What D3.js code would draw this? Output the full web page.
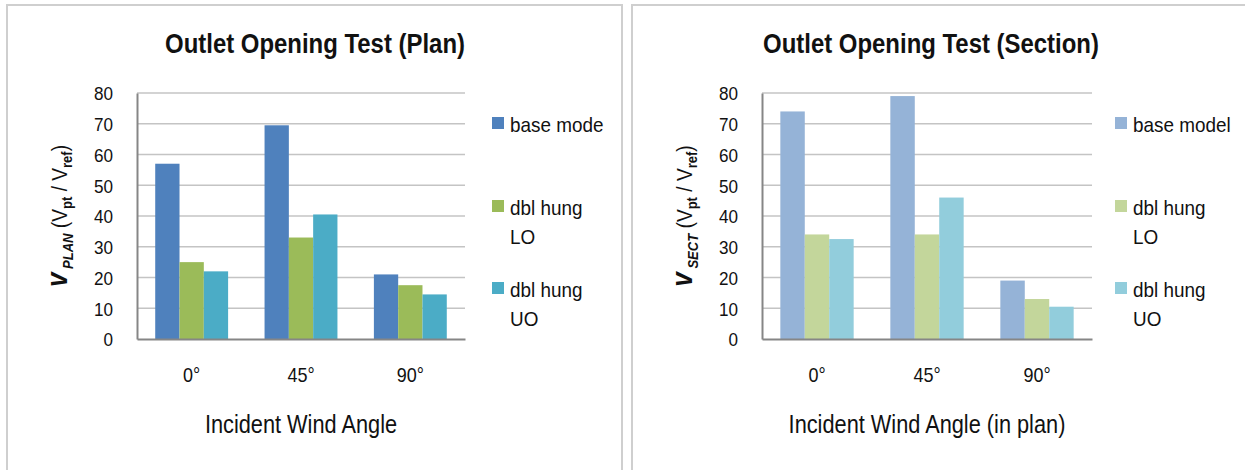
<!DOCTYPE html>
<html><head><meta charset="utf-8">
<script src="https://cdn.jsdelivr.net/npm/d3@7"></script>
<style>
html,body{margin:0;padding:0;background:#fff;}
svg{display:block;}
text{font-family:"Liberation Sans",Arial,sans-serif;fill:#111;}
</style></head>
<body>
<svg id="c" width="1245" height="470"></svg>
<script>
const categories = ["0°", "45°", "90°"];
const yTicks = [0, 10, 20, 30, 40, 50, 60, 70, 80];

const planSeries = ["base mode", "dbl hung LO", "dbl hung UO"];
const planBase = [57, 69.5, 21];
const planLO = [25, 33, 17.5];
const planUO = [22, 40.5, 14.5];

const sectSeries = ["base model", "dbl hung LO", "dbl hung UO"];
const sectBase = [74, 79, 19];
const sectLO = [34, 34, 13];
const sectUO = [32.5, 46, 10.5];

const legendLines = [["base mode"], ["dbl hung", "LO"], ["dbl hung", "UO"]];
const legendLinesSect = [["base model"], ["dbl hung", "LO"], ["dbl hung", "UO"]];

const svg = d3.select("#c");

// narrow the text horizontally around its anchor (reference uses a condensed face)
function condense(sel, s) {
  sel.each(function () {
    const t = d3.select(this);
    const x = +t.attr("x") || 0;
    const y = +t.attr("y") || 0;
    t.attr("x", 0).attr("y", 0).attr("transform", `translate(${x},${y}) scale(${s},1)`);
  });
}

function drawChart(cfg) {
  const g = svg.append("g").attr("transform", `translate(${cfg.dx},0)`);
  g.append("rect").attr("x", cfg.frame[0]).attr("y", 5)
    .attr("width", cfg.frame[1] - cfg.frame[0]).attr("height", 480)
    .attr("fill", "none").attr("stroke", "#cfcfcf").attr("stroke-width", 2);

  const x0 = d3.scaleBand().domain(categories).range([cfg.left, cfg.right]);
  const x1 = d3.scaleBand().domain(cfg.series).range([0, x0.bandwidth()]).paddingOuter(0.75);
  const y = d3.scaleLinear().domain([0, 80]).range([339, 93]);

  g.append("g").selectAll("line").data(yTicks.filter(d => d > 0)).join("line")
    .attr("x1", cfg.left).attr("x2", cfg.right)
    .attr("y1", d => y(d)).attr("y2", d => y(d))
    .attr("stroke", "#c4c4c4").attr("stroke-width", 1.6);

  const values = cfg.values;
  cfg.series.forEach((s, si) => {
    g.append("g").selectAll("rect").data(categories).join("rect")
      .attr("x", c => x0(c) + x1(s))
      .attr("width", x1.bandwidth())
      .attr("y", (c, i) => y(values[si][i]))
      .attr("height", (c, i) => y(0) - y(values[si][i]))
      .attr("fill", cfg.colors[si]);
  });

  const ya = g.append("g").attr("transform", `translate(${cfg.left},0)`)
    .call(d3.axisLeft(y).tickValues(yTicks).tickSize(0).tickPadding(24));
  ya.select(".domain").attr("stroke", "#868686").attr("stroke-width", 2);
  ya.selectAll("text").style("font-size", "19px").attr("fill", "#111").attr("dy", "0.36em");
  condense(ya.selectAll("text"), 0.9);

  const xa = g.append("g").attr("transform", `translate(0,339)`)
    .call(d3.axisBottom(x0).tickSize(0).tickPadding(29));
  xa.select(".domain").attr("stroke", "#868686").attr("stroke-width", 2);
  xa.selectAll("text").style("font-size", "20px").attr("fill", "#111");
  condense(xa.selectAll("text"), 0.9);

  const title = g.append("text").attr("x", cfg.titleX).attr("y", 53).attr("text-anchor", "middle")
    .style("font-size", "28px").style("font-weight", "bold").text(cfg.title);
  condense(title, 0.855);

  const xt = g.append("text").attr("x", (cfg.left + cfg.right) / 2).attr("y", 433).attr("text-anchor", "middle")
    .style("font-size", "25px").text(cfg.xTitle);
  condense(xt, 0.87);

  const yt = g.append("text").attr("transform", `translate(67,216) rotate(-90) scale(0.87,1)`)
    .attr("text-anchor", "middle").style("font-size", "22px");
  yt.append("tspan").style("font-weight", "bold").style("font-style", "italic").style("font-size", "30px").text("v");
  yt.append("tspan").style("font-weight", "bold").style("font-style", "italic").style("font-size", "15px").attr("dy", 6).text(" " + cfg.sub);
  yt.append("tspan").attr("dy", -6).text(" (V");
  yt.append("tspan").style("font-weight", "bold").style("font-size", "15px").attr("dy", 5).text("pt");
  yt.append("tspan").attr("dy", -5).text(" / V");
  yt.append("tspan").style("font-weight", "bold").style("font-size", "15px").attr("dy", 5).text("ref");
  yt.append("tspan").attr("dy", -5).text(")");

  const leg = g.append("g");
  const itemY = [132, 215, 297];
  cfg.legend.forEach((lines, i) => {
    leg.append("rect").attr("x", cfg.legX).attr("y", itemY[i] - 15).attr("width", 12).attr("height", 12)
      .attr("fill", cfg.colors[i]);
    lines.forEach((t, j) => {
      const lt = leg.append("text").attr("x", cfg.legX + 18).attr("y", itemY[i] + j * 29)
        .style("font-size", "21px").text(t);
      condense(lt, 0.9);
    });
  });
}

drawChart({
  dx: 0, frame: [7, 622], left: 137, right: 465,
  series: planSeries, values: [planBase, planLO, planUO],
  colors: ["#4F81BD", "#9BBB59", "#4BACC6"],
  title: "Outlet Opening Test (Plan)", titleX: 315,
  xTitle: "Incident Wind Angle", sub: "PLAN",
  legend: legendLines, legX: 492
});
drawChart({
  dx: 625, frame: [7, 640], left: 137, right: 467,
  series: sectSeries, values: [sectBase, sectLO, sectUO],
  colors: ["#95B3D7", "#C3D69B", "#92CDDC"],
  title: "Outlet Opening Test (Section)", titleX: 306,
  xTitle: "Incident Wind Angle (in plan)", sub: "SECT",
  legend: legendLinesSect, legX: 490
});
</script>
</body></html>
